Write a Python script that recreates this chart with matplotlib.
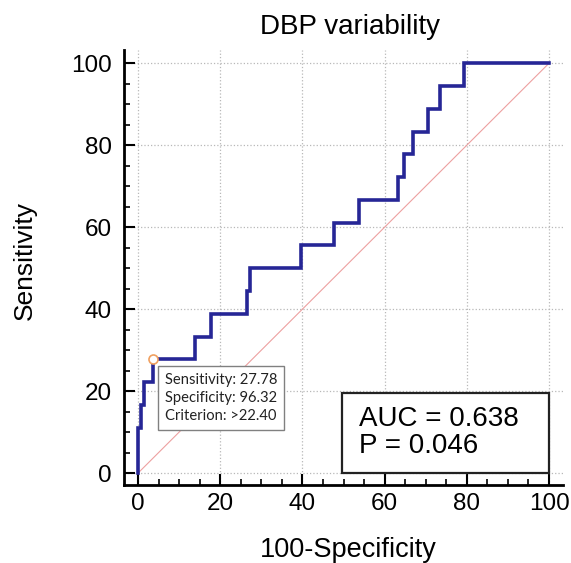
import matplotlib.pyplot as plt
from matplotlib.patches import Rectangle
from matplotlib.ticker import MultipleLocator

# ROC curve corners (100-Specificity, Sensitivity)
fpr = [0, 0, 0.74, 0.74, 1.47, 1.47, 3.68, 3.68, 13.97, 13.97, 17.65, 17.65,
       26.47, 26.47, 27.21, 27.21, 39.71, 39.71, 47.79, 47.79, 53.68, 53.68,
       63.24, 63.24, 64.71, 64.71, 66.91, 66.91, 70.59, 70.59, 73.53, 73.53,
       79.41, 79.41, 100]
tpr = [0, 11.11, 11.11, 16.67, 16.67, 22.22, 22.22, 27.78, 27.78, 33.33, 33.33, 38.89,
       38.89, 44.44, 44.44, 50.0, 50.0, 55.56, 55.56, 61.11, 61.11, 66.67,
       66.67, 72.22, 72.22, 77.78, 77.78, 83.33, 83.33, 88.89, 88.89, 94.44,
       94.44, 100, 100]

# optimal cut-off point
cut_fpr = 100 - 96.32
cut_tpr = 27.78
cut_text = "Sensitivity: 27.78\nSpecificity: 96.32\nCriterion: >22.40"

auc = 0.638
p_value = 0.046

ticks = [0, 20, 40, 60, 80, 100]

plt.rcParams['font.family'] = ['Liberation Sans', 'DejaVu Sans']

fig = plt.figure(figsize=(5.71, 5.63), dpi=100)
ax = fig.add_axes([0.2172, 0.1385, 0.7688, 0.7725])

ax.plot([0, 100], [0, 100], color='#eda0a0', lw=0.8, zorder=2)
ax.plot(fpr, tpr, color='#262696', lw=2.6, zorder=3, solid_joinstyle='miter')
ax.plot(cut_fpr, cut_tpr, 'o', ms=6.5, mfc='white', mec='#f0a060', mew=1.2, zorder=4)

ax.text(6.5, 18.4, cut_text, family='Lato', fontsize=10.6, linespacing=1.38,
        va='center', ha='left', zorder=5, color='#222222',
        bbox=dict(boxstyle='square,pad=0.45', fc='white', ec='#808080', lw=1))

ax.add_patch(Rectangle((49.6, 0), 50.4, 19.5, fc='white', ec='#222222', lw=1.6, zorder=5))
ax.text(53.8, 9.9, f"AUC = {auc:.3f}\nP = {p_value:.3f}", fontsize=20, linespacing=1.05,
        va='center', ha='left', zorder=6)

ax.set_xlim(-3.4, 103.4)
ax.set_ylim(-2.9, 103.2)
ax.set_xticks(ticks)
ax.set_yticks(ticks)
ax.xaxis.set_minor_locator(MultipleLocator(5))
ax.yaxis.set_minor_locator(MultipleLocator(5))
ax.tick_params(which='major', direction='in', length=8, width=1.5, labelsize=17.5)
ax.tick_params(axis='y', which='major', pad=9)
ax.tick_params(axis='x', which='major', pad=6)
ax.tick_params(which='minor', direction='in', length=4.5, width=1.2)
for s in ['top', 'right']:
    ax.spines[s].set_visible(False)
for s in ['left', 'bottom']:
    ax.spines[s].set_linewidth(2)
ax.grid(True, which='major', linestyle=':', color='#b8b8b8', lw=0.9)
ax.set_axisbelow(True)

ax.set_xlabel('100-Specificity', fontsize=19.5)
ax.set_ylabel('Sensitivity', fontsize=19)
ax.xaxis.set_label_coords(0.51, -0.12)
ax.yaxis.set_label_coords(-0.198, 0.517)
fig.text(350 / 571, 1 - 27 / 563, 'DBP variability', fontsize=20, ha='center', va='center')

plt.savefig('out.png', dpi=100)
